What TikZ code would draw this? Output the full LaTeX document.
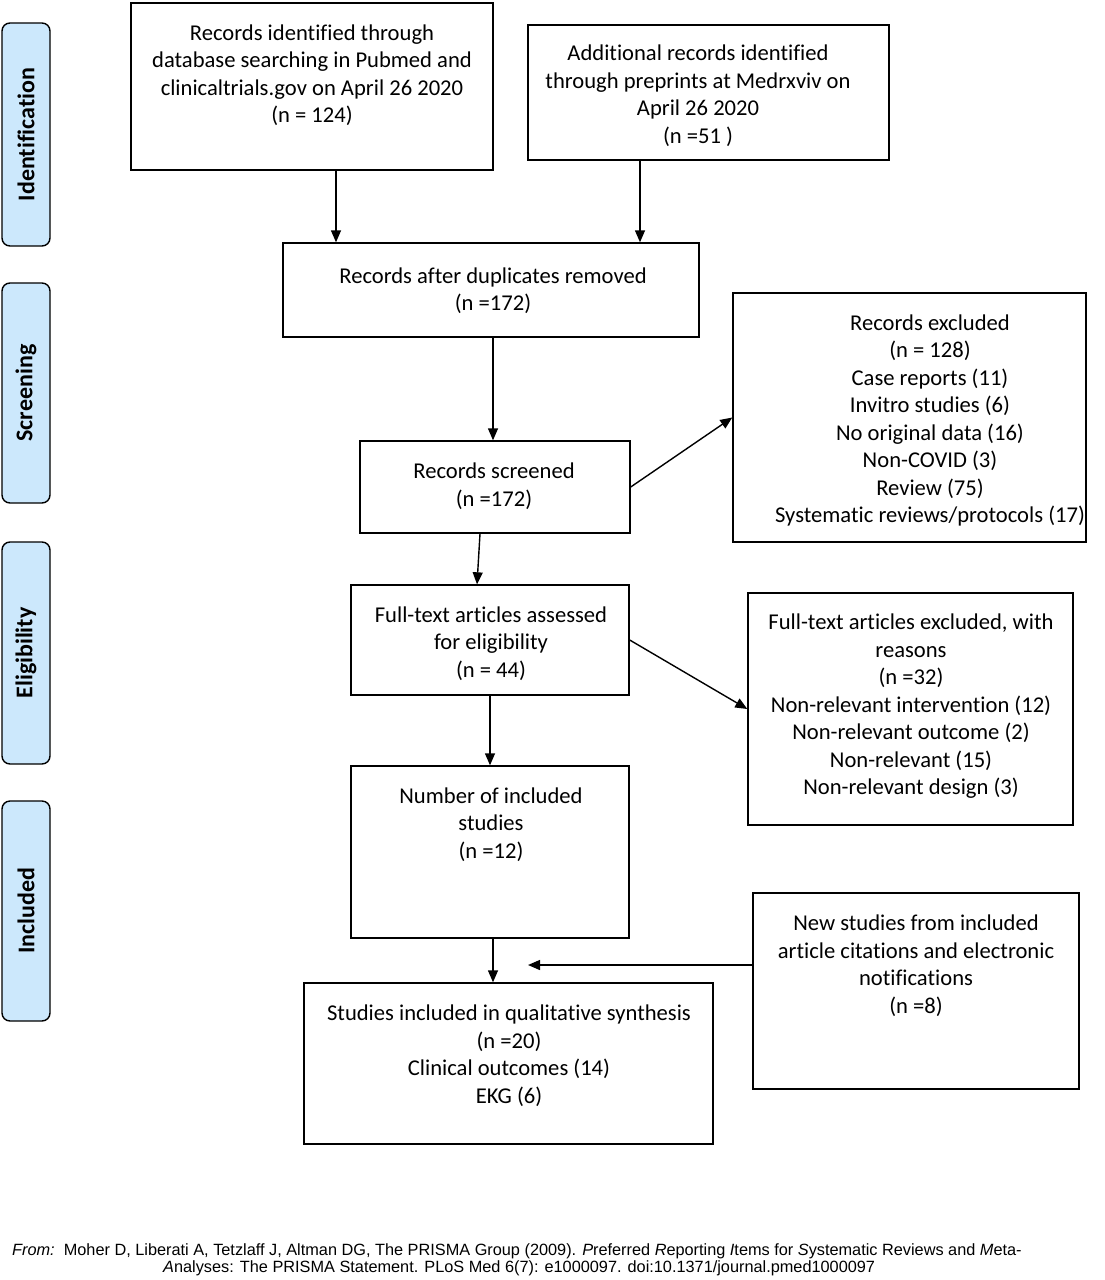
\documentclass[tikz,border=0pt]{standalone}
\usepackage{fontspec}
\setmainfont{Carlito}[Ligatures=NoCommon]
\newfontfamily\footfont{Liberation Sans}
\usetikzlibrary{arrows.meta}
\definecolor{sidebl}{RGB}{204,232,252}
\begin{document}
\begin{tikzpicture}[x=1pt,y=-1pt,
  box/.style={draw,line width=1.4pt,inner sep=0pt},
  txt/.style={align=center,inner sep=0pt,font=\fontsize{22.6}{27.5}\selectfont},
  side/.style={draw,line width=1.4pt,fill=sidebl,rounded corners=8pt,inner sep=0pt,minimum width=48pt},
  sidetxt/.style={rotate=90,inner sep=0pt,font=\fontsize{24}{28}\selectfont\bfseries},
  foot/.style={anchor=west,inner sep=0pt,font=\footfont\fontsize{16.3}{18}\selectfont},
  arr/.style={line width=1.4pt,-{Triangle[length=12pt,width=10pt]}}]
\useasboundingbox (0,0) rectangle (1104,1280);
% side labels
\node[side,minimum height=223pt] (s1) at (26,134.5) {};
\node[sidetxt] (s1t) at (s1) {Identification};
\node[side,minimum height=220pt] (s2) at (26,393) {};
\node[sidetxt] (s2t) at (s2) {Screening};
\node[side,minimum height=222pt] (s3) at (26,653) {};
\node[sidetxt] (s3t) at (s3) {Eligibility};
\node[side,minimum height=220pt] (s4) at (26,911) {};
\node[sidetxt] (s4t) at (s4) {Included};
% boxes
\node[box,minimum width=362pt,minimum height=167pt] (A) at (312,86.5) {};
\node[txt] (At) at (312,75) {Records identified through\\database searching in Pubmed and\\clinicaltrials.gov on April 26 2020\\(n = 124)};
\node[box,minimum width=361pt,minimum height=135pt] (B) at (708.5,92.5) {};
\node[txt] (Bt) at (698,95.5) {Additional records identified\\through preprints at Medrxviv on\\April 26 2020\\(n =51 )};
\node[box,minimum width=416pt,minimum height=94pt] (D) at (491,290) {};
\node[txt] (Dt) at (493,290.5) {Records after duplicates removed\\(n =172)};
\node[box,minimum width=270pt,minimum height=92pt] (S) at (495,487) {};
\node[txt] (St) at (494,486) {Records screened\\(n =172)};
\node[box,minimum width=353pt,minimum height=249pt] (E) at (909.5,417.5) {};
\node[txt] (Et) at (930,420.5) {Records excluded\\(n = 128)\\Case reports (11)\\Invitro studies (6)\\No original data (16)\\Non-COVID (3)\\Review\ (75)\\Systematic reviews/protocols (17)};
\node[box,minimum width=278pt,minimum height=110pt] (F) at (490,640) {};
\node[txt] (Ft) at (491,643.5) {Full-text articles assessed\\for eligibility\\(n = 44)};
\node[box,minimum width=325pt,minimum height=232pt] (G) at (910.5,709) {};
\node[txt] (Gt) at (911,706.5) {Full-text articles excluded, with\\reasons\\(n =32)\\Non-relevant intervention (12)\\Non-relevant outcome (2)\\Non-relevant (15)\\Non-relevant design (3)};
\node[box,minimum width=278pt,minimum height=172pt] (I) at (490,852) {};
\node[txt] (It) at (491,824.5) {Number of included\\studies\\(n =12)};
\node[box,minimum width=409pt,minimum height=161pt] (Q) at (508.5,1063.5) {};
\node[txt] (Qt) at (509,1055.5) {Studies included in qualitative synthesis\\(n =20)\\Clinical outcomes (14)\\EKG (6)};
\node[box,minimum width=326pt,minimum height=196pt] (N) at (916,991) {};
\node[txt] (Nt) at (916,965.5) {New studies from included\\article citations and electronic\\notifications\\(n =8)};
% column coordinates
\coordinate (c336) at (336,0);
\coordinate (c640) at (640,0);
\coordinate (c493) at (493,0);
\coordinate (c480) at (480,0);
\coordinate (c477) at (477,0);
\coordinate (c490) at (490,0);
\coordinate (r965) at (0,965);
\coordinate (tip) at (528,965);
% arrows
\draw[arr] (A.south -| c336) -- (D.north -| c336);
\draw[arr] (B.south -| c640) -- (D.north -| c640);
\draw[arr] (D.south -| c493) -- (S.north -| c493);
\draw[arr] (S.east) -- (E.west);
\draw[arr] (S.south -| c480) -- (F.north -| c477);
\draw[arr] (F.east) -- (G.west);
\draw[arr] (F.south -| c490) -- (I.north -| c490);
\draw[arr] (I.south -| c493) -- (Q.north -| c493);
\draw[arr] (N.west |- r965) -- (tip);
% footer
\node[foot] (f1) at (12,1251) {\textit{From:}\ \ Moher D, Liberati A, Tetzlaff J, Altman DG, The PRISMA Group (2009). \textit{P}referred \textit{R}eporting \textit{I}tems for \textit{S}ystematic Reviews and \textit{M}eta-};
\node[foot] (f2) at (163,1268) {\textit{A}nalyses: The PRISMA Statement. PLoS Med 6(7): e1000097. doi:10.1371/journal.pmed1000097};
\end{tikzpicture}
\end{document}
